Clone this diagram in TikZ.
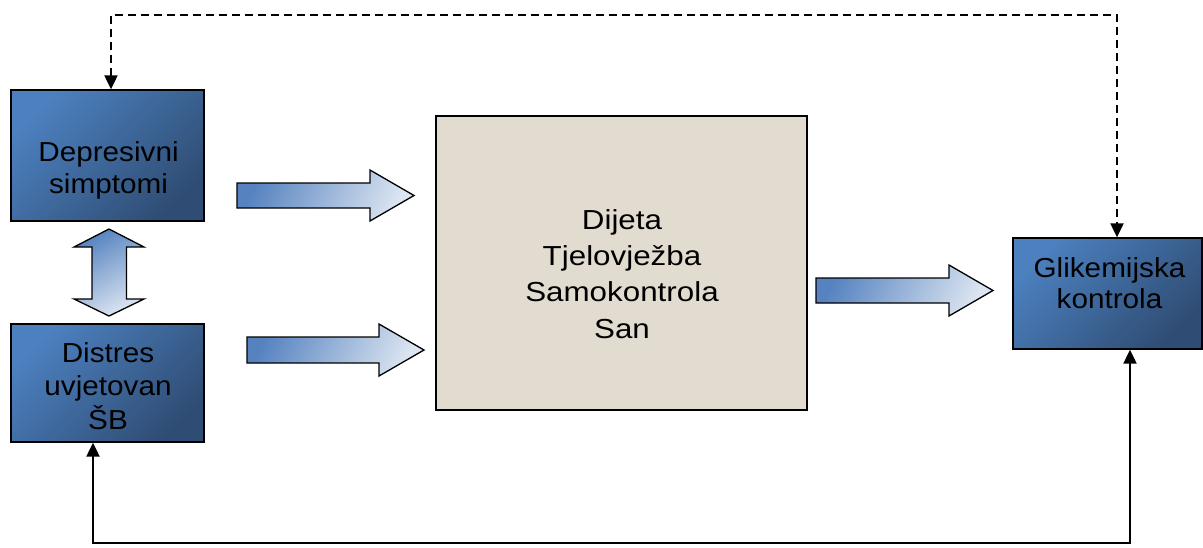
\documentclass[tikz,border=0pt]{standalone}
\usepackage{fontspec}
\setmainfont{Liberation Sans}
\usetikzlibrary{arrows.meta,calc}
\definecolor{boxlight}{HTML}{4C80BF}
\definecolor{boxdark}{HTML}{2F4D74}
\definecolor{arrblue}{HTML}{5683C0}
\definecolor{arrlight}{HTML}{DCE5F1}
\definecolor{beige}{HTML}{E1DBD0}
\newcommand{\boxlines}[3]{\scalebox{#1}[1]{\fontsize{27.5}{#2}\selectfont\begin{tabular}[t]{@{}c@{}}#3\end{tabular}}}
\tikzset{
  bluebox/.style={draw=black, line width=1.3pt, rectangle, top color=boxlight, bottom color=boxdark, shading angle=45, inner sep=0pt},
  centerbox/.style={draw=black, line width=1.3pt, rectangle, fill=beige, inner sep=0pt},
  txt/.style={anchor=base, inner sep=0pt, text=black},
  fatarrow/.style={draw=black, line width=1.3pt, top color=arrblue, bottom color=arrlight, shading angle=65},
  fatarrowv/.style={draw=black, line width=1.3pt, top color=arrblue, bottom color=arrlight, shading angle=30},
  conn/.style={line width=2pt, >={Triangle[length=14pt,width=13pt]}, <->},
}
\begin{document}
\begin{tikzpicture}[x=1pt,y=-1pt]
\useasboundingbox (0,0) rectangle (1203,547);
\node[bluebox, minimum width=193pt, minimum height=131pt] (dep) at (107.5,155.5) {};
\node[txt] (deptext) at (108.5,161.7) {\boxlines{1.08}{31.6}{Depresivni\\simptomi}};
\node[bluebox, minimum width=193pt, minimum height=118pt] (dis) at (107.5,383) {};
\node[txt] (distext) at (108,362.3) {\boxlines{1.08}{33}{Distres\\uvjetovan\\ŠB}};
\node[centerbox, minimum width=371pt, minimum height=294pt] (mid) at (621.5,263) {};
\node[txt] (midtext) at (622,229.3) {\boxlines{1.14}{36.3}{Dijeta\\Tjelovježba\\Samokontrola\\San}};
\node[bluebox, minimum width=189pt, minimum height=111pt] (gli) at (1107.5,293.5) {};
\node[txt] (glitext) at (1109.5,277.3) {\boxlines{1.08}{31}{Glikemijska\\kontrola}};
% fat arrows
\path[fatarrow] (237,183) -- (370,183) -- (370,170) -- (414,195.5) -- (370,221) -- (370,208) -- (237,208) -- cycle;
\path[fatarrow] (247,337) -- (379,337) -- (379,324) -- (424,350) -- (379,376) -- (379,363) -- (247,363) -- cycle;
\path[fatarrow] (816,278) -- (949,278) -- (949,265) -- (993,290.5) -- (949,316) -- (949,303) -- (816,303) -- cycle;
\path[fatarrowv] (109,229) -- (144,247) -- (126.5,247) -- (126.5,299) -- (144,299) -- (109,316) -- (74,299) -- (92,299) -- (92,247) -- (74,247) -- cycle;
% connectors
\coordinate (top) at (600,15);
\coordinate (bot) at (600,543);
\draw[conn, dash pattern=on 8pt off 5pt]
  ([xshift=3.5pt]dep.north) |- (top) -| ([xshift=9.5pt]gli.north);
\draw[conn]
  ([xshift=-14.5pt]dis.south) |- (bot) -| ([xshift=22.5pt]gli.south);
\end{tikzpicture}
\end{document}
